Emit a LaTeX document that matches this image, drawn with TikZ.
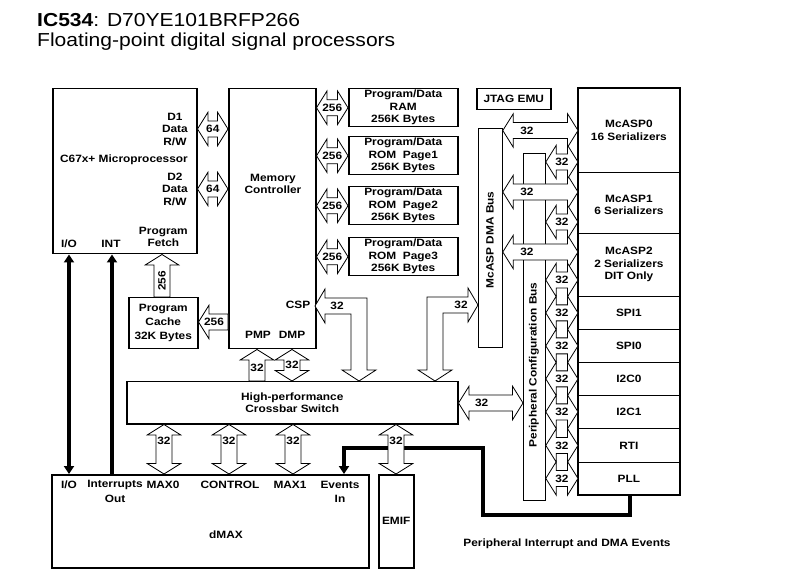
\documentclass[tikz,border=0pt]{standalone}
\usepackage{fontspec}
\setmainfont{Liberation Sans}[FakeStretch=1.12]
\usetikzlibrary{arrows.meta,calc}
\newcommand\lblfont{\bfseries\fontsize{10.6}{12.5}\selectfont}
\newcommand\fahl{10.5pt}
\newcommand\fahw{16.8pt}
\newcommand\fasw{8pt}
\tikzset{
  box/.style={draw, line width=1.5pt, fill=white, inner sep=0pt, anchor=north west},
  thinbox/.style={draw, line width=0.8pt, fill=white, inner sep=0pt, anchor=north west},
  lbl/.style={font=\lblfont, inner sep=0pt, align=center},
  fatarrow/.style={draw, line width=0.8pt, fill=white, line join=miter},
  thickline/.style={line width=3.5pt, line join=miter},
  tip/.style={-{Triangle[length=8pt,width=10pt]}},
}
% box: [style]{name}{x}{y}{w}{h}
\newcommand\boxnode[6][box]{\node[#1, minimum width=#5pt, minimum height=#6pt] (#2) at (#3,#4) {};}
% horizontal double fat arrow: left tip, right tip, label pos, label
\newcommand\fahd[4]{%
  \draw[fatarrow] let \p1=#1, \p2=#2 in (\x1,\y1) -- (\x1+\fahl,\y1+\fahw) -- (\x1+\fahl,\y1+\fasw) -- (\x2-\fahl,\y1+\fasw) -- (\x2-\fahl,\y1+\fahw) -- (\x2,\y1) -- (\x2-\fahl,\y1-\fahw) -- (\x2-\fahl,\y1-\fasw) -- (\x1+\fahl,\y1-\fasw) -- (\x1+\fahl,\y1-\fahw) -- cycle;
  \path #1 -- #2 node[pos=#3,lbl]{#4};}
% vertical double fat arrow: top tip, bottom tip, label pos, label
\newcommand\favd[4]{%
  \draw[fatarrow] let \p1=#1, \p2=#2 in (\x1,\y1) -- (\x1+\fahw,\y1-\fahl) -- (\x1+\fasw,\y1-\fahl) -- (\x1+\fasw,\y2+\fahl) -- (\x1+\fahw,\y2+\fahl) -- (\x1,\y2) -- (\x1-\fahw,\y2+\fahl) -- (\x1-\fasw,\y2+\fahl) -- (\x1-\fasw,\y1-\fahl) -- (\x1-\fahw,\y1-\fahl) -- cycle;
  \path #1 -- #2 node[pos=#3,lbl]{#4};}
% vertical single fat arrow pointing up: tip, tail
\newcommand\favu[2]{%
  \draw[fatarrow] let \p1=#1, \p2=#2 in (\x1,\y1) -- (\x1+\fahw,\y1-\fahl) -- (\x1+\fasw,\y1-\fahl) -- (\x1+\fasw,\y2) -- (\x1-\fasw,\y2) -- (\x1-\fasw,\y1-\fahl) -- (\x1-\fahw,\y1-\fahl) -- cycle;}
% horizontal single fat arrow pointing left: tip, tail
\newcommand\fahlft[2]{%
  \draw[fatarrow] let \p1=#1, \p2=#2 in (\x1,\y1) -- (\x1+\fahl,\y1+\fahw) -- (\x1+\fahl,\y1+\fasw) -- (\x2,\y1+\fasw) -- (\x2,\y1-\fasw) -- (\x1+\fahl,\y1-\fasw) -- (\x1+\fahl,\y1-\fahw) -- cycle;}
\begin{document}
\begin{tikzpicture}[x=1pt,y=-1pt]
\useasboundingbox (0,0) rectangle (801,585);
\fill[white] (0,0) rectangle (801,585);
% title
\node[anchor=base west, inner sep=0pt, font=\fontsize{18.8}{20}\selectfont] (t1) at (37,27) {\textbf{IC534}: D70YE101BRFP266};
\node[anchor=base west, inner sep=0pt, font=\fontsize{18.8}{20}\selectfont] (t2) at (37,47) {Floating-point digital signal processors};
% boxes
\boxnode{mp}{52}{88}{144}{165}
\boxnode{mc}{228}{88}{87}{260}
\boxnode{ram}{348}{88}{109}{38}
\boxnode{rom1}{348}{136}{109}{38}
\boxnode{rom2}{348}{186}{109}{38}
\boxnode{rom3}{348}{237}{109}{38}
\boxnode{jtag}{476}{88}{74}{21}
\boxnode[thinbox]{dmabus}{478}{128}{24}{219}
\boxnode[thinbox]{cfgbus}{523}{153}{22}{347}
\boxnode[thinbox]{mcasp0}{578}{88}{101}{84}
\boxnode[thinbox]{mcasp1}{578}{172}{101}{61}
\boxnode[thinbox]{mcasp2}{578}{233}{101}{63}
\boxnode[thinbox]{spi1}{578}{296}{101}{33}
\boxnode[thinbox]{spi0}{578}{329}{101}{33}
\boxnode[thinbox]{i2c0}{578}{362}{101}{33}
\boxnode[thinbox]{i2c1}{578}{395}{101}{33}
\boxnode[thinbox]{rti}{578}{428}{101}{34}
\boxnode[thinbox]{pll}{578}{462}{101}{32}
\draw[line width=1.5pt] (mcasp0.north west) rectangle (pll.south east);
\boxnode{cache}{128}{297}{69}{51}
\boxnode{xbar}{126}{381}{331}{42}
\boxnode{dmax}{51}{474}{317}{93}
\boxnode{emif}{378}{474}{35}{93}
% thick signal lines
\draw[thickline, {Triangle[length=8pt,width=10pt]}-{Triangle[length=8pt,width=10pt]}] (69,0 |- mp.south) -- (69,0 |- dmax.north);
\draw[thickline, tip] (112,0 |- dmax.north) -- (112,0 |- mp.south);
\coordinate (ev1) at (630,515);
\coordinate (ev2) at (483,515);
\coordinate (ev3) at (483,448);
\coordinate (ev4) at (344,448);
\draw[thickline, tip] (630,0 |- pll.south) -- (ev1) -- (ev2) -- (ev3) -- (ev4) -- (344,0 |- dmax.north);
% fat arrows: microprocessor <-> memory controller
\fahd{(mp.east |- 0,129)}{(mc.west |- 0,129)}{0.5}{64}
\fahd{(mp.east |- 0,189)}{(mc.west |- 0,189)}{0.5}{64}
% memory controller <-> memories
\fahd{(mc.east |- ram.west)}{(ram.west)}{0.5}{256}
\fahd{(mc.east |- rom1.west)}{(rom1.west)}{0.5}{256}
\fahd{(mc.east |- rom2.west)}{(rom2.west)}{0.5}{256}
\fahd{(mc.east |- rom3.west)}{(rom3.west)}{0.5}{256}
% program cache
\favu{(162,0 |- mp.south)}{(162,0 |- cache.north)}
\node[lbl, rotate=90] at (162,281) {256};
\fahlft{(cache.east |- 0,322)}{(mc.west |- 0,322)}
\node[lbl] at (214,322) {256};
% PMP / DMP
\favu{(257,0 |- mc.south)}{(257,0 |- xbar.north)}
\node[lbl] at (257,368) {32};
\favd{(292,0 |- mc.south)}{(292,0 |- xbar.north)}{0.5}{32}
% CSP L-shaped arrow
\draw[fatarrow] (315,306) -- (325,289) -- (325,298) -- (367,298) -- (367,370) -- (376,370) -- (359,381) -- (342,370) -- (351,370) -- (351,314) -- (325,314) -- (325,323) -- cycle;
\node[lbl] at (337,306) {32};
% McASP DMA L-shaped arrow
\draw[fatarrow] (478,305) -- (468,288) -- (468,297) -- (427,297) -- (427,370) -- (418,370) -- (435,381) -- (452,370) -- (443,370) -- (443,313) -- (468,313) -- (468,322) -- cycle;
\node[lbl] at (461,305) {32};
% crossbar -> peripheral configuration bus
\fahd{(xbar.east |- 0,403)}{(cfgbus.west |- 0,403)}{0.36}{32}
% crossbar <-> dMAX / EMIF
\favd{(164,0 |- xbar.south)}{(164,0 |- dmax.north)}{0.34}{32}
\favd{(229,0 |- xbar.south)}{(229,0 |- dmax.north)}{0.34}{32}
\favd{(293,0 |- xbar.south)}{(293,0 |- dmax.north)}{0.34}{32}
\favd{(396,0 |- xbar.south)}{(396,0 |- emif.north)}{0.34}{32}
% McASP DMA bus arrows
\fahd{(dmabus.east |- 0,130.5)}{(mcasp0.west |- 0,130.5)}{0.32}{32}
\fahd{(dmabus.east |- 0,192)}{(mcasp1.west |- 0,192)}{0.32}{32}
\fahd{(dmabus.east |- 0,252)}{(mcasp2.west |- 0,252)}{0.32}{32}
% peripheral configuration bus arrows
\fahd{(cfgbus.east |- 0,162)}{(mcasp0.west |- 0,162)}{0.5}{32}
\fahd{(cfgbus.east |- 0,222)}{(mcasp1.west |- 0,222)}{0.5}{32}
\fahd{(cfgbus.east |- 0,280)}{(mcasp2.west |- 0,280)}{0.5}{32}
\fahd{(cfgbus.east |- spi1.west)}{(spi1.west)}{0.5}{32}
\fahd{(cfgbus.east |- spi0.west)}{(spi0.west)}{0.5}{32}
\fahd{(cfgbus.east |- i2c0.west)}{(i2c0.west)}{0.5}{32}
\fahd{(cfgbus.east |- i2c1.west)}{(i2c1.west)}{0.5}{32}
\fahd{(cfgbus.east |- rti.west)}{(rti.west)}{0.5}{32}
\fahd{(cfgbus.east |- pll.west)}{(pll.west)}{0.5}{32}
% labels: microprocessor
\node[lbl, anchor=east] at (188,129) {D1\\Data\\R/W};
\node[lbl, anchor=east] at (188,160) {C67x+ Microprocessor};
\node[lbl, anchor=east] at (188,189) {D2\\Data\\R/W};
\node[lbl, anchor=east] at (188,237) {Program\\Fetch};
\node[lbl] at (69,244) {I/O};
\node[lbl] at (111,244) {INT};
% memory controller
\node[lbl] at (273,184) {Memory\\Controller};
\node[lbl] at (298,305) {CSP};
\node[lbl] at (258,335) {PMP};
\node[lbl] at (292,335) {DMP};
% memories
\node[lbl] at (ram) {Program/Data\\RAM\\256K Bytes};
\node[lbl] at (rom1) {Program/Data\\ROM~~Page1\\256K Bytes};
\node[lbl] at (rom2) {Program/Data\\ROM~~Page2\\256K Bytes};
\node[lbl] at (rom3) {Program/Data\\ROM~~Page3\\256K Bytes};
\node[lbl] at (jtag) {JTAG EMU};
\node[lbl] at (cache) {Program\\[1.5pt]Cache\\[1.5pt]32K Bytes};
% right column
\node[lbl] at (mcasp0) {McASP0\\16 Serializers};
\node[lbl] at ([yshift=-2pt]mcasp1.center) {McASP1\\6 Serializers};
\node[lbl] at (mcasp2) {McASP2\\2 Serializers\\DIT Only};
\node[lbl] at (spi1) {SPI1};
\node[lbl] at (spi0) {SPI0};
\node[lbl] at (i2c0) {I2C0};
\node[lbl] at (i2c1) {I2C1};
\node[lbl] at (rti) {RTI};
\node[lbl] at (pll) {PLL};
\node[lbl, rotate=90] at (490,240) {McASP DMA Bus};
\node[lbl, rotate=90] at (534,365) {Peripheral Configuration Bus};
% crossbar
\node[lbl] at (xbar) {High-performance\\Crossbar Switch};
% dMAX
\node[lbl] at (69,485) {I/O};
\node[lbl] at (115,485) {Interrupts};
\node[lbl] at (115,499) {Out};
\node[lbl] at (163,485) {MAX0};
\node[lbl] at (230,485) {CONTROL};
\node[lbl] at (290,485) {MAX1};
\node[lbl] at (340,485) {Events};
\node[lbl] at (340,499) {In};
\node[lbl] at (226,535) {dMAX};
\node[lbl] at (emif) {EMIF};
\node[lbl] at (567,544) {Peripheral Interrupt and DMA Events};
\end{tikzpicture}
\end{document}
